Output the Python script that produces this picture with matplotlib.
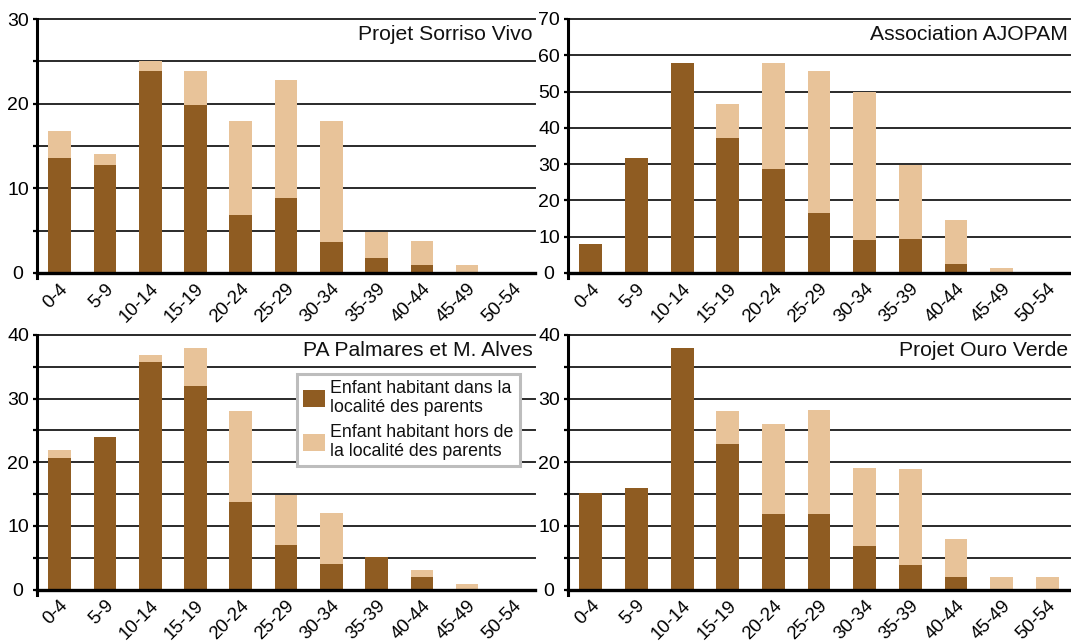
import numpy as np
import matplotlib
matplotlib.use("Agg")
import matplotlib.pyplot as plt

plt.rcParams['font.family'] = ['Liberation Sans', 'DejaVu Sans']

categories = ['0-4', '5-9', '10-14', '15-19', '20-24', '25-29', '30-34',
              '35-39', '40-44', '45-49', '50-54']

# Projet Sorriso Vivo
sorriso_dans = [13.6, 12.7, 23.8, 19.8, 6.8, 8.8, 3.7, 1.8, 0.9, 0, 0]
sorriso_hors = [3.2, 1.4, 1.2, 4.1, 11.1, 14.0, 14.2, 3.1, 2.9, 0.9, 0]
# Association AJOPAM
ajopam_dans = [8.1, 31.8, 57.9, 37.3, 28.7, 16.6, 9.2, 9.5, 2.6, 0, 0]
ajopam_hors = [0, 0, 0, 9.3, 29.3, 39.2, 40.8, 20.3, 12.1, 1.5, 0]
# PA Palmares et M. Alves
palmares_dans = [20.7, 24.0, 35.8, 32.0, 13.8, 7.0, 4.0, 5.1, 2.0, 0, 0]
palmares_hors = [1.2, 0, 1.1, 6.0, 14.3, 7.9, 8.0, 0, 1.0, 0.8, 0]
# Projet Ouro Verde
ouro_dans = [15.1, 16.0, 38.0, 22.9, 11.9, 11.9, 6.8, 3.8, 1.9, 0, 0]
ouro_hors = [0, 0, 0, 5.2, 14.1, 16.3, 12.3, 15.1, 6.0, 1.9, 2.0]

titles = ['Projet Sorriso Vivo', 'Association AJOPAM',
          'PA Palmares et M. Alves', 'Projet Ouro Verde']
ymaxes = [30, 70, 40, 40]
minor_steps = [5, 10, 5, 5]
series = [(sorriso_dans, sorriso_hors), (ajopam_dans, ajopam_hors),
          (palmares_dans, palmares_hors), (ouro_dans, ouro_hors)]

legend_labels = ['Enfant habitant dans la\nlocalité des parents',
                 'Enfant habitant hors de\nla localité des parents']

DARK = '#8F5C22'
LIGHT = '#E8C399'

W, H = 1071, 641
fig = plt.figure(figsize=(W / 100, H / 100), dpi=100)

# (left, right, top, zero) in pixels
boxes = [(37, 535, 19, 273), (568, 1070, 19, 273),
         (37, 535, 335, 589.5), (568, 1070, 335, 589.5)]
below = 5  # spine extension below zero, px

for i, (l, r, t, z) in enumerate(boxes):
    b = z + below
    ax = fig.add_axes([l / W, 1 - b / H, (r - l) / W, (b - t) / H])
    ymax = ymaxes[i]
    pad_frac = below / (z - t)
    dans, hors = series[i]
    x = np.arange(len(categories))
    b1 = ax.bar(x, dans, width=0.5, color=DARK, zorder=2, linewidth=0)
    b2 = ax.bar(x, hors, width=0.5, bottom=dans, color=LIGHT, zorder=2,
                linewidth=0)
    ax.set_xlim(-0.5, len(categories) - 0.5)
    ax.set_ylim(-pad_frac * ymax, ymax)

    # gridlines
    for v in np.arange(minor_steps[i], ymax + 1e-9, minor_steps[i]):
        ax.axhline(v, color='#2a2a2a', lw=1.4, zorder=0.5, clip_on=False)
    ax.axhline(0, color='black', lw=2.4, zorder=3, clip_on=False)

    for s in ['top', 'right', 'bottom']:
        ax.spines[s].set_visible(False)
    ax.spines['left'].set_linewidth(2.2)
    ax.spines['left'].set_color('black')
    ax.spines['left'].set_zorder(4)

    ax.set_yticks(np.arange(0, ymax + 1e-9, 10))
    ax.set_yticks(np.arange(0, ymax + 1e-9, minor_steps[i]), minor=True)
    ax.tick_params(axis='y', which='both', direction='out', length=3,
                   width=1.6, color='black')
    ax.tick_params(axis='y', which='major', labelsize=14, pad=10.6)
    for lab in ax.get_yticklabels():
        lab.set_horizontalalignment('center')

    ax.set_xticks(x)
    ax.set_xticklabels(categories, rotation=45, ha='right', va='top',
                       rotation_mode='anchor', fontsize=13.4)
    ax.tick_params(axis='x', length=0, pad=1.8)

    ax.annotate(titles[i], xy=(1, 1), xycoords='axes fraction',
                xytext=(-1.5, -4.5), textcoords='offset points',
                ha='right', va='top', fontsize=15.2, color='#111111')

    if i == 2:
        leg = ax.legend([b1, b2], legend_labels, loc='upper right',
                        bbox_to_anchor=(0.970, 0.851), fontsize=12.8,
                        frameon=True, fancybox=False, framealpha=1,
                        edgecolor='#BDBDBD', handlelength=1.25,
                        handleheight=1.1, handletextpad=0.3,
                        borderpad=0.35, labelspacing=0.4,
                        borderaxespad=0)
        leg.get_frame().set_linewidth(2.2)
        leg.set_zorder(6)
        for txt in leg.get_texts():
            txt.set_linespacing(1.2)
            txt.set_color('#111111')

fig.savefig('out.png', dpi=100)
